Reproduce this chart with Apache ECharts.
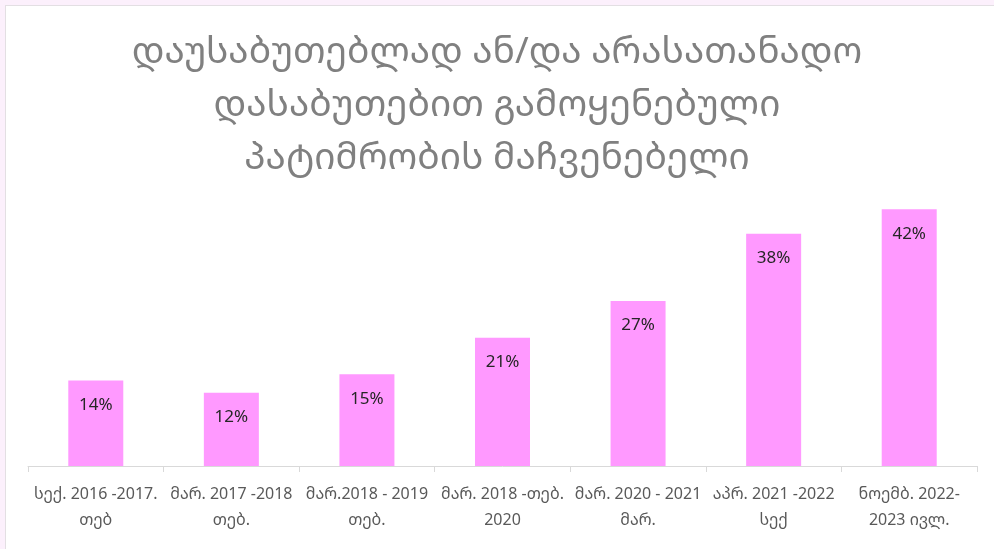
<!DOCTYPE html>
<html>
<head>
<meta charset="utf-8">
<script src="https://cdn.jsdelivr.net/npm/echarts@6/dist/echarts.min.js"></script>
<style>
  html, body { margin: 0; padding: 0; background: #fcf0fc; overflow: hidden; }
  #frame {
    position: absolute; left: 5px; top: 5px; width: 1000px; height: 560px;
    background: #fff; border: 1px solid #e3dfe3;
  }
  #chart { position: absolute; left: -6px; top: -6px; width: 994px; height: 549px; }
</style>
</head>
<body>
<div id="frame"><div id="chart"></div></div>
<script>
// data
const titleText = "დაუსაბუთებლად ან/და არასათანადო\nდასაბუთებით გამოყენებული\nპატიმრობის მაჩვენებელი";
const categories = [
  "სექ. 2016 -2017.\nთებ",
  "მარ. 2017 -2018\nთებ.",
  "მარ.2018 - 2019\nთებ.",
  "მარ. 2018 -თებ.\n2020",
  "მარ. 2020 - 2021\nმარ.",
  "აპრ. 2021 -2022\nსექ",
  "ნოემბ. 2022-\n2023 ივლ."
];
const values = [0.14, 0.12, 0.15, 0.21, 0.27, 0.38, 0.42];

const font = "'Noto Sans Georgian', 'DejaVu Sans', sans-serif";

const chart = echarts.init(document.getElementById("chart"));
chart.setOption({
  animation: false,
  title: {
    text: titleText,
    left: "center",
    top: 21,
    textStyle: {
      fontFamily: font,
      fontSize: 37,
      fontWeight: "normal",
      color: "#808080",
      lineHeight: 53
    }
  },
  grid: {
    left: 28,
    right: 17,
    top: 191,
    bottom: 83,
    containLabel: false
  },
  xAxis: {
    type: "category",
    data: categories,
    axisLine: { lineStyle: { color: "#d9d9d9", width: 1 } },
    axisTick: { show: true, alignWithLabel: false, length: 6, lineStyle: { color: "#d9d9d9" } },
    axisLabel: {
      interval: 0,
      margin: 15,
      fontFamily: font,
      fontSize: 16,
      lineHeight: 26,
      color: "#595959"
    }
  },
  yAxis: {
    type: "value",
    min: 0,
    max: 0.45,
    show: false,
    splitLine: { show: false }
  },
  series: [
    {
      type: "bar",
      data: values,
      barWidth: 55,
      itemStyle: { color: "#ff99ff" },
      label: {
        show: true,
        position: "insideTop",
        distance: 16,
        fontFamily: font,
        fontSize: 17,
        color: "#262626",
        formatter: function (p) {
          return Math.round(p.value * 100) + "%";
        }
      }
    }
  ]
});
</script>
</body>
</html>
